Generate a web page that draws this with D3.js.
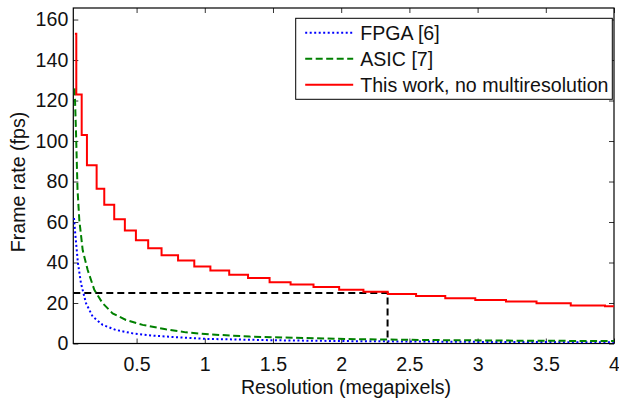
<!DOCTYPE html>
<html>
<head>
<meta charset="utf-8">
<script src="https://cdn.jsdelivr.net/npm/d3@7"></script>
<style>
  body { margin: 0; background: #fff; }
  svg { display: block; font-family: Arial, "Liberation Sans", sans-serif; }
</style>
</head>
<body>
<div id="plot"></div>
<script>
// values
const fpgaRes = [0.041, 0.048, 0.056, 0.070, 0.092, 0.129, 0.178, 0.251, 0.348, 0.471, 0.617, 0.837, 1.0, 1.5, 2.0, 2.5, 3.0, 3.5, 4.0];
const fpgaFps = [62, 56, 50, 39.7, 29.8, 19.9, 13.3, 9.2, 6.7, 5.0, 3.9, 2.9, 2.3, 1.6, 1.2, 1.0, 0.8, 0.7, 0.6];

const asicRes = [0.046, 0.056, 0.063, 0.067, 0.080, 0.105, 0.141, 0.190, 0.251, 0.324, 0.422, 0.544, 0.714, 0.861, 1.036, 1.33, 1.80, 2.13, 2.65, 3.30, 4.0];
const asicFps = [126, 104, 86, 76, 61, 46, 36.4, 26.5, 19.9, 14.9, 11.6, 9.2, 7.0, 5.5, 4.5, 3.4, 2.6, 2.1, 1.7, 1.4, 1.2];

// step curve: each value holds until the next resolution
const workRes = [0.048, 0.058, 0.0975, 0.136, 0.207, 0.263, 0.336, 0.414, 0.495, 0.585, 0.683, 0.804, 0.923, 1.041, 1.179, 1.317, 1.475, 1.629, 1.797, 1.985, 2.163, 2.341, 2.549, 2.763, 2.983, 3.208, 3.432, 3.683, 3.934, 4.0];
const workFps = [153, 123, 103, 88, 76.4, 68.5, 61.4, 55.8, 51, 47.1, 43.6, 41, 38, 36, 34, 32.3, 30.3, 29.1, 27.9, 26.6, 25.5, 24.5, 23.5, 22.4, 21.5, 20.7, 19.9, 18.8, 18.4, 18.4];

const markRes = 2.34;
const markFps = 25;

const xTicks = [0.5, 1, 1.5, 2, 2.5, 3, 3.5, 4];
const yTicks = [0, 20, 40, 60, 80, 100, 120, 140, 160];

const legendLabels = ['FPGA [6]', 'ASIC [7]', 'This work, no multiresolution'];

const W = 619, H = 399;
const margin = {top: 8, right: 5, bottom: 55.5, left: 73.3};
const width = W - margin.left - margin.right;
const height = H - margin.top - margin.bottom;
const fontSize = 19.6;

const svg = d3.select('#plot')
  .append('svg')
  .attr('width', W)
  .attr('height', H);

const g = svg.append('g')
  .attr('transform', `translate(${margin.left},${margin.top})`);

const x = d3.scaleLinear().domain([0.036, 4]).range([0, width]);
const y = d3.scaleLinear().domain([0, 165.7]).range([height, 0]);

g.append('clipPath').attr('id', 'clip')
  .append('rect').attr('width', width).attr('height', height);

// axes, MATLAB style: ticks inward on all four sides
const styleAxis = sel => {
  sel.select('.domain').remove();
  sel.selectAll('.tick line').attr('stroke', '#000').attr('stroke-width', 0.8);
  sel.selectAll('.tick text').attr('font-size', fontSize).attr('fill', '#111');
};

g.append('g')
  .attr('transform', `translate(0,${height})`)
  .call(d3.axisBottom(x).tickValues(xTicks).tickSize(-5).tickPadding(14).tickFormat(d3.format('')))
  .call(styleAxis);
g.append('g')
  .call(d3.axisTop(x).tickValues(xTicks).tickSize(-5).tickFormat(''))
  .call(styleAxis);
g.append('g')
  .call(d3.axisLeft(y).tickValues(yTicks).tickSize(-5).tickPadding(5))
  .call(styleAxis);
g.append('g')
  .attr('transform', `translate(${width},0)`)
  .call(d3.axisRight(y).tickValues(yTicks).tickSize(-5).tickFormat(''))
  .call(styleAxis);

g.append('rect')
  .attr('width', width)
  .attr('height', height)
  .attr('fill', 'none')
  .attr('stroke', '#000')
  .attr('stroke-width', 1.2);

// axis labels
svg.append('text')
  .attr('x', 346)
  .attr('y', 394)
  .attr('text-anchor', 'middle')
  .attr('font-size', fontSize)
  .attr('fill', '#111')
  .text('Resolution (megapixels)');

svg.append('text')
  .attr('transform', 'translate(25,182) rotate(-90)')
  .attr('text-anchor', 'middle')
  .attr('font-size', fontSize)
  .attr('fill', '#111')
  .text('Frame rate (fps)');

const plot = g.append('g').attr('clip-path', 'url(#clip)');

// 25 fps marker
plot.append('path')
  .datum([[x.domain()[0], markFps], [markRes, markFps], [markRes, 0]])
  .attr('fill', 'none')
  .attr('stroke', '#000')
  .attr('stroke-width', 2)
  .attr('stroke-dasharray', '7,4')
  .attr('d', d3.line().x(d => x(d[0])).y(d => y(d[1])));

const series = [
  {res: fpgaRes, fps: fpgaFps, color: '#0000ff', dash: '2,2.5', curve: d3.curveLinear},
  {res: asicRes, fps: asicFps, color: '#008000', dash: '7,3.5', curve: d3.curveLinear},
  {res: workRes, fps: workFps, color: '#ff0000', dash: null, curve: d3.curveStepAfter}
];

series.forEach(s => {
  plot.append('path')
    .datum(d3.zip(s.res, s.fps))
    .attr('fill', 'none')
    .attr('stroke', s.color)
    .attr('stroke-width', 2)
    .attr('stroke-dasharray', s.dash)
    .attr('d', d3.line().curve(s.curve).x(d => x(d[0])).y(d => y(d[1])));
});

// legend
const legend = svg.append('g').attr('transform', 'translate(295.7,18.3)');
legend.append('rect')
  .attr('width', 316.6)
  .attr('height', 81)
  .attr('fill', '#fff')
  .attr('stroke', '#000')
  .attr('stroke-width', 1);

series.forEach((s, i) => {
  const ly = 14.5 + i * 26;
  legend.append('line')
    .attr('x1', 9.5).attr('x2', 57.5)
    .attr('y1', ly).attr('y2', ly)
    .attr('stroke', s.color)
    .attr('stroke-width', 2)
    .attr('stroke-dasharray', s.dash);
  legend.append('text')
    .attr('x', 64.5)
    .attr('y', ly)
    .attr('dy', '0.36em')
    .attr('font-size', fontSize)
    .attr('fill', '#111')
    .text(legendLabels[i]);
});
</script>
</body>
</html>
